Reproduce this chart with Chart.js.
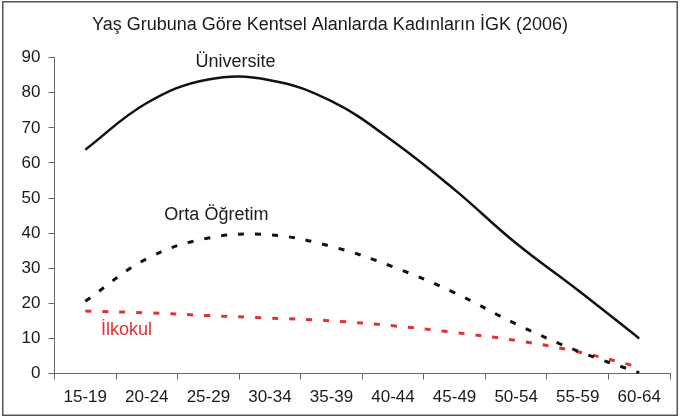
<!DOCTYPE html>
<html>
<head>
<meta charset="utf-8">
<script src="https://cdn.jsdelivr.net/npm/chart.js@4.4.1/dist/chart.umd.min.js"></script>
<style>
  html, body { margin: 0; padding: 0; background: #fff; }
  #wrap { position: relative; width: 680px; height: 418px; }
  canvas { display: block; }
</style>
</head>
<body>
<div id="wrap"><canvas id="c" width="680" height="418"></canvas></div>
<script>
const titleText = "Yaş Grubuna Göre Kentsel Alanlarda Kadınların İGK (2006)";
const categories = ["15-19", "20-24", "25-29", "30-34", "35-39", "40-44", "45-49", "50-54", "55-59", "60-64"];
const universite = [63.8, 77.1, 83.8, 83.6, 77.6, 66.2, 52.4, 37.1, 23.8, 10.0];
const ortaOgretim = [20.6, 32.7, 38.6, 39.5, 36.2, 30.4, 23.0, 14.1, 6.4, 0.2];
const ilkokul = [17.8, 17.3, 16.5, 15.8, 15.0, 13.6, 11.7, 9.4, 6.2, 1.8];
const yTicks = [0, 10, 20, 30, 40, 50, 60, 70, 80, 90];

const FONT = "'Liberation Sans', Arial, Helvetica, sans-serif";
const RED = "#e03038";

const seriesLabels = [
  { text: "Üniversite", idx: 2.44, val: 88.9, color: "#1a1a1a" },
  { text: "Orta Öğretim", idx: 2.13, val: 45.2, color: "#1a1a1a" },
  { text: "İlkokul", idx: 0.67, val: 12.4, color: RED }
];

const decor = {
  id: "decor",
  afterDraw(chart) {
    const ctx = chart.ctx;
    const xs = chart.scales.x, ys = chart.scales.y;
    ctx.save();
    ctx.strokeStyle = "#555";
    ctx.lineWidth = 1.5;
    ctx.strokeRect(2.75, 1.75, 674.5, 413.5);
    ctx.fillStyle = "#1a1a1a";
    ctx.font = "18px " + FONT;
    ctx.textAlign = "center";
    ctx.textBaseline = "middle";
    ctx.fillText(titleText, 330, 25);
    ctx.font = "18px " + FONT;
    const step = (xs.getPixelForValue(1) - xs.getPixelForValue(0));
    seriesLabels.forEach(l => {
      const x = xs.getPixelForValue(0) + step * l.idx;
      const y = ys.getPixelForValue(l.val);
      ctx.fillStyle = l.color;
      ctx.fillText(l.text, x, y);
    });
    ctx.restore();
  }
};

new Chart(document.getElementById("c"), {
  type: "line",
  data: {
    labels: categories,
    datasets: [
      { label: "Üniversite", data: universite, borderColor: "#111", borderWidth: 2.5,
        pointRadius: 0, tension: 0.4, fill: false },
      { label: "Orta Öğretim", data: ortaOgretim, borderColor: "#111", borderWidth: 3,
        borderDash: [6, 11], pointRadius: 0, tension: 0.4, fill: false },
      { label: "İlkokul", data: ilkokul, borderColor: RED, borderWidth: 3,
        borderDash: [6, 11], pointRadius: 0, tension: 0.4, fill: false }
    ]
  },
  options: {
    responsive: false,
    animation: false,
    events: [],
    layout: { padding: { left: 0, right: 10, top: 57.7, bottom: 0 } },
    plugins: { legend: { display: false }, title: { display: false }, tooltip: { enabled: false } },
    scales: {
      x: {
        type: "category",
        offset: true,
        grid: { display: true, drawOnChartArea: false, drawTicks: true, tickLength: 6, color: "#666", offset: true },
        border: { display: true, color: "#666", width: 1 },
        ticks: { color: "#1a1a1a", font: { family: FONT, size: 17 }, padding: 8, maxRotation: 0, autoSkip: false },
        afterFit(s) { s.height = 44.5; }
      },
      y: {
        min: 0, max: 90,
        afterBuildTicks(s) { s.ticks = yTicks.map(v => ({ value: v })); },
        grid: { display: true, drawOnChartArea: false, drawTicks: true, tickLength: 6, color: "#666" },
        border: { display: true, color: "#666", width: 1 },
        ticks: { color: "#1a1a1a", font: { family: FONT, size: 17 }, padding: 8 },
        afterFit(s) { s.width = 54.5; }
      }
    }
  },
  plugins: [decor]
});
</script>
</body>
</html>
